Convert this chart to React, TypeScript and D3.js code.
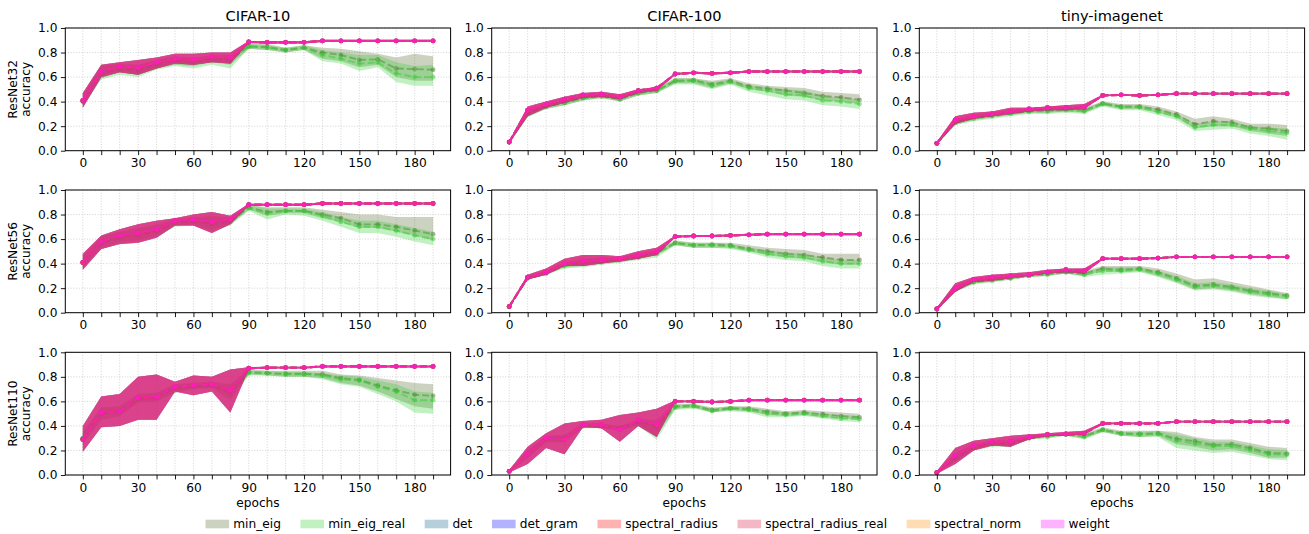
import React, { useEffect, useRef } from "react";
import * as d3 from "d3";

const W = 1309;
const H = 534;

// x values and labels
const epochs = [0, 10, 20, 30, 40, 50, 60, 70, 80, 90, 100, 110, 120, 130, 140, 150, 160, 170, 180, 190];
const yTicks = [0, 0.2, 0.4, 0.6, 0.8, 1.0];
const datasets = ["CIFAR-10", "CIFAR-100", "tiny-imagenet"];
const models = ["ResNet32", "ResNet56", "ResNet110"];
const seriesNames = ["min_eig", "min_eig_real", "det", "det_gram", "spectral_radius", "spectral_radius_real", "spectral_norm", "weight"];
const seriesColors = ["#556b2f", "#32cd32", "#0a6289", "#0000ff", "#ff0000", "#dc143c", "#ff8c00", "#ff00ff"];

// ResNet32 / CIFAR-10
const c10_r32_mag = [0.41, 0.645, 0.685, 0.677, 0.72, 0.747, 0.74, 0.766, 0.76, 0.886, 0.883, 0.883, 0.883, 0.895, 0.895, 0.895, 0.895, 0.895, 0.895, 0.895];
const c10_r32_magLo = [0.35, 0.6, 0.64, 0.62, 0.67, 0.71, 0.7, 0.72, 0.71, 0.876, 0.874, 0.874, 0.874, 0.886, 0.886, 0.886, 0.886, 0.886, 0.886, 0.886];
const c10_r32_magHi = [0.47, 0.7, 0.72, 0.74, 0.76, 0.79, 0.79, 0.8, 0.8, 0.894, 0.892, 0.892, 0.892, 0.904, 0.904, 0.904, 0.904, 0.904, 0.904, 0.904];
const c10_r32_eig = [0.4, 0.64, 0.67, 0.66, 0.71, 0.74, 0.73, 0.75, 0.75, 0.85, 0.845, 0.82, 0.84, 0.8, 0.78, 0.74, 0.745, 0.67, 0.665, 0.66];
const c10_r32_eigLo = [0.36, 0.59, 0.64, 0.62, 0.67, 0.7, 0.69, 0.72, 0.7, 0.83, 0.82, 0.8, 0.82, 0.75, 0.73, 0.68, 0.7, 0.6, 0.57, 0.57];
const c10_r32_eigHi = [0.45, 0.69, 0.71, 0.7, 0.74, 0.77, 0.76, 0.78, 0.78, 0.87, 0.87, 0.84, 0.86, 0.84, 0.83, 0.81, 0.79, 0.76, 0.79, 0.77];
const c10_r32_real = [0.4, 0.63, 0.66, 0.65, 0.7, 0.73, 0.72, 0.74, 0.73, 0.85, 0.84, 0.82, 0.84, 0.78, 0.75, 0.71, 0.72, 0.63, 0.6, 0.6];
const c10_r32_realLo = [0.36, 0.58, 0.62, 0.6, 0.66, 0.69, 0.67, 0.7, 0.67, 0.83, 0.82, 0.8, 0.82, 0.73, 0.71, 0.65, 0.68, 0.56, 0.53, 0.53];
const c10_r32_realHi = [0.46, 0.7, 0.7, 0.7, 0.74, 0.76, 0.75, 0.76, 0.76, 0.87, 0.86, 0.84, 0.86, 0.82, 0.8, 0.78, 0.78, 0.72, 0.69, 0.7];

// ResNet32 / CIFAR-100
const c100_r32_mag = [0.07, 0.33, 0.38, 0.42, 0.455, 0.46, 0.44, 0.49, 0.51, 0.625, 0.635, 0.63, 0.635, 0.645, 0.645, 0.645, 0.645, 0.645, 0.645, 0.645];
const c100_r32_magLo = [0.06, 0.28, 0.35, 0.39, 0.43, 0.44, 0.42, 0.47, 0.49, 0.617, 0.627, 0.622, 0.627, 0.637, 0.637, 0.637, 0.637, 0.637, 0.637, 0.637];
const c100_r32_magHi = [0.08, 0.36, 0.4, 0.44, 0.47, 0.48, 0.46, 0.5, 0.52, 0.633, 0.643, 0.638, 0.643, 0.653, 0.653, 0.653, 0.653, 0.653, 0.653, 0.653];
const c100_r32_eig = [0.07, 0.31, 0.36, 0.39, 0.43, 0.445, 0.42, 0.47, 0.49, 0.57, 0.575, 0.54, 0.57, 0.525, 0.505, 0.49, 0.47, 0.445, 0.435, 0.415];
const c100_r32_eigLo = [0.06, 0.28, 0.34, 0.37, 0.41, 0.43, 0.4, 0.45, 0.47, 0.55, 0.55, 0.51, 0.55, 0.5, 0.48, 0.45, 0.44, 0.41, 0.4, 0.38];
const c100_r32_eigHi = [0.08, 0.33, 0.38, 0.41, 0.45, 0.46, 0.44, 0.49, 0.51, 0.59, 0.59, 0.57, 0.59, 0.55, 0.53, 0.52, 0.51, 0.48, 0.47, 0.46];
const c100_r32_real = [0.07, 0.3, 0.36, 0.39, 0.43, 0.44, 0.42, 0.47, 0.49, 0.565, 0.57, 0.53, 0.56, 0.51, 0.49, 0.46, 0.45, 0.41, 0.4, 0.38];
const c100_r32_realLo = [0.06, 0.27, 0.34, 0.37, 0.41, 0.43, 0.4, 0.45, 0.47, 0.54, 0.54, 0.5, 0.54, 0.48, 0.45, 0.42, 0.41, 0.37, 0.36, 0.34];
const c100_r32_realHi = [0.08, 0.33, 0.38, 0.41, 0.45, 0.46, 0.44, 0.49, 0.51, 0.59, 0.59, 0.56, 0.58, 0.53, 0.52, 0.5, 0.49, 0.45, 0.43, 0.42];

// ResNet32 / tiny-imagenet
const tin_r32_mag = [0.06, 0.25, 0.28, 0.3, 0.32, 0.34, 0.35, 0.35, 0.355, 0.45, 0.455, 0.45, 0.455, 0.465, 0.465, 0.465, 0.465, 0.465, 0.465, 0.465];
const tin_r32_magLo = [0.05, 0.22, 0.26, 0.28, 0.3, 0.32, 0.33, 0.33, 0.34, 0.443, 0.448, 0.443, 0.448, 0.458, 0.458, 0.458, 0.458, 0.458, 0.458, 0.458];
const tin_r32_magHi = [0.07, 0.28, 0.31, 0.32, 0.35, 0.35, 0.36, 0.37, 0.38, 0.457, 0.462, 0.457, 0.462, 0.472, 0.472, 0.472, 0.472, 0.472, 0.472, 0.472];
const tin_r32_eig = [0.06, 0.23, 0.27, 0.29, 0.31, 0.32, 0.33, 0.34, 0.33, 0.385, 0.36, 0.36, 0.335, 0.295, 0.215, 0.24, 0.23, 0.19, 0.18, 0.16];
const tin_r32_eigLo = [0.05, 0.21, 0.25, 0.27, 0.29, 0.31, 0.31, 0.32, 0.31, 0.37, 0.34, 0.34, 0.31, 0.27, 0.18, 0.2, 0.2, 0.16, 0.14, 0.12];
const tin_r32_eigHi = [0.07, 0.25, 0.29, 0.31, 0.33, 0.34, 0.35, 0.35, 0.35, 0.4, 0.38, 0.38, 0.36, 0.32, 0.26, 0.28, 0.26, 0.22, 0.22, 0.21];
const tin_r32_real = [0.06, 0.23, 0.26, 0.28, 0.3, 0.32, 0.32, 0.33, 0.32, 0.38, 0.355, 0.355, 0.315, 0.28, 0.19, 0.21, 0.21, 0.18, 0.16, 0.145];
const tin_r32_realLo = [0.05, 0.21, 0.24, 0.26, 0.28, 0.3, 0.3, 0.31, 0.3, 0.36, 0.33, 0.33, 0.29, 0.25, 0.16, 0.17, 0.18, 0.14, 0.12, 0.09];
const tin_r32_realHi = [0.07, 0.25, 0.28, 0.3, 0.32, 0.33, 0.34, 0.35, 0.34, 0.4, 0.37, 0.37, 0.34, 0.3, 0.22, 0.24, 0.24, 0.2, 0.19, 0.18];

// ResNet56 / CIFAR-10
const c10_r56_mag = [0.41, 0.58, 0.63, 0.65, 0.68, 0.75, 0.76, 0.74, 0.76, 0.88, 0.88, 0.88, 0.88, 0.89, 0.89, 0.89, 0.89, 0.89, 0.89, 0.89];
const c10_r56_magLo = [0.35, 0.52, 0.56, 0.57, 0.61, 0.71, 0.71, 0.65, 0.72, 0.872, 0.872, 0.872, 0.872, 0.882, 0.882, 0.882, 0.882, 0.882, 0.882, 0.882];
const c10_r56_magHi = [0.48, 0.63, 0.68, 0.72, 0.75, 0.77, 0.8, 0.82, 0.79, 0.888, 0.888, 0.888, 0.888, 0.898, 0.898, 0.898, 0.898, 0.898, 0.898, 0.898];
const c10_r56_eig = [0.41, 0.57, 0.62, 0.64, 0.67, 0.74, 0.75, 0.73, 0.75, 0.86, 0.82, 0.83, 0.83, 0.8, 0.77, 0.72, 0.72, 0.7, 0.67, 0.64];
const c10_r56_eigLo = [0.37, 0.53, 0.58, 0.59, 0.63, 0.71, 0.72, 0.68, 0.72, 0.84, 0.79, 0.81, 0.81, 0.77, 0.74, 0.69, 0.69, 0.66, 0.63, 0.59];
const c10_r56_eigHi = [0.46, 0.62, 0.66, 0.69, 0.72, 0.77, 0.78, 0.79, 0.78, 0.88, 0.86, 0.86, 0.86, 0.84, 0.82, 0.8, 0.8, 0.78, 0.78, 0.78];
const c10_r56_real = [0.41, 0.57, 0.61, 0.63, 0.66, 0.73, 0.74, 0.72, 0.74, 0.85, 0.81, 0.83, 0.83, 0.79, 0.74, 0.7, 0.7, 0.67, 0.63, 0.6];
const c10_r56_realLo = [0.36, 0.52, 0.56, 0.58, 0.62, 0.7, 0.71, 0.66, 0.71, 0.83, 0.76, 0.8, 0.79, 0.75, 0.7, 0.65, 0.65, 0.62, 0.58, 0.55];
const c10_r56_realHi = [0.46, 0.62, 0.66, 0.69, 0.71, 0.76, 0.77, 0.78, 0.77, 0.88, 0.85, 0.85, 0.85, 0.82, 0.78, 0.75, 0.75, 0.72, 0.69, 0.66];

// ResNet56 / CIFAR-100
const c100_r56_mag = [0.05, 0.29, 0.33, 0.4, 0.42, 0.43, 0.44, 0.47, 0.5, 0.62, 0.625, 0.625, 0.63, 0.635, 0.64, 0.64, 0.64, 0.64, 0.64, 0.64];
const c100_r56_magLo = [0.04, 0.27, 0.31, 0.38, 0.38, 0.4, 0.42, 0.44, 0.47, 0.612, 0.617, 0.617, 0.622, 0.627, 0.632, 0.632, 0.632, 0.632, 0.632, 0.632];
const c100_r56_magHi = [0.06, 0.31, 0.36, 0.44, 0.47, 0.47, 0.46, 0.5, 0.53, 0.628, 0.633, 0.633, 0.638, 0.643, 0.648, 0.648, 0.648, 0.648, 0.648, 0.648];
const c100_r56_eig = [0.05, 0.28, 0.32, 0.39, 0.41, 0.42, 0.43, 0.46, 0.49, 0.57, 0.55, 0.555, 0.55, 0.52, 0.5, 0.48, 0.47, 0.45, 0.43, 0.43];
const c100_r56_eigLo = [0.04, 0.27, 0.31, 0.37, 0.38, 0.4, 0.41, 0.44, 0.47, 0.55, 0.53, 0.53, 0.53, 0.5, 0.47, 0.45, 0.44, 0.41, 0.39, 0.39];
const c100_r56_eigHi = [0.06, 0.3, 0.34, 0.41, 0.44, 0.45, 0.45, 0.48, 0.51, 0.59, 0.57, 0.57, 0.57, 0.55, 0.53, 0.52, 0.51, 0.48, 0.48, 0.48];
const c100_r56_real = [0.05, 0.28, 0.32, 0.38, 0.4, 0.41, 0.43, 0.45, 0.48, 0.565, 0.55, 0.55, 0.54, 0.51, 0.48, 0.46, 0.45, 0.42, 0.4, 0.4];
const c100_r56_realLo = [0.04, 0.27, 0.31, 0.36, 0.37, 0.39, 0.41, 0.43, 0.45, 0.55, 0.53, 0.53, 0.52, 0.49, 0.45, 0.43, 0.42, 0.38, 0.36, 0.36];
const c100_r56_realHi = [0.06, 0.3, 0.34, 0.41, 0.43, 0.44, 0.45, 0.48, 0.5, 0.58, 0.57, 0.57, 0.56, 0.53, 0.51, 0.49, 0.48, 0.45, 0.43, 0.43];

// ResNet56 / tiny-imagenet
const tin_r56_mag = [0.03, 0.2, 0.27, 0.29, 0.3, 0.31, 0.33, 0.35, 0.34, 0.44, 0.44, 0.44, 0.445, 0.455, 0.455, 0.455, 0.455, 0.455, 0.455, 0.455];
const tin_r56_magLo = [0.02, 0.17, 0.25, 0.26, 0.28, 0.3, 0.32, 0.33, 0.32, 0.433, 0.433, 0.433, 0.438, 0.448, 0.448, 0.448, 0.448, 0.448, 0.448, 0.448];
const tin_r56_magHi = [0.04, 0.24, 0.29, 0.31, 0.32, 0.33, 0.35, 0.36, 0.36, 0.447, 0.447, 0.447, 0.452, 0.462, 0.462, 0.462, 0.462, 0.462, 0.462, 0.462];
const tin_r56_eig = [0.03, 0.19, 0.25, 0.27, 0.28, 0.3, 0.32, 0.33, 0.32, 0.36, 0.35, 0.36, 0.33, 0.28, 0.22, 0.23, 0.21, 0.18, 0.16, 0.14];
const tin_r56_eigLo = [0.02, 0.17, 0.24, 0.25, 0.27, 0.29, 0.3, 0.32, 0.3, 0.34, 0.33, 0.34, 0.3, 0.25, 0.19, 0.2, 0.18, 0.15, 0.13, 0.11];
const tin_r56_eigHi = [0.04, 0.22, 0.27, 0.29, 0.3, 0.31, 0.33, 0.34, 0.34, 0.38, 0.38, 0.38, 0.36, 0.32, 0.27, 0.28, 0.25, 0.22, 0.19, 0.16];
const tin_r56_real = [0.03, 0.19, 0.25, 0.26, 0.28, 0.3, 0.31, 0.33, 0.31, 0.34, 0.34, 0.35, 0.32, 0.27, 0.21, 0.22, 0.2, 0.17, 0.15, 0.13];
const tin_r56_realLo = [0.02, 0.17, 0.23, 0.25, 0.27, 0.29, 0.3, 0.32, 0.29, 0.31, 0.32, 0.33, 0.29, 0.24, 0.18, 0.19, 0.17, 0.14, 0.12, 0.11];
const tin_r56_realHi = [0.04, 0.22, 0.27, 0.28, 0.3, 0.31, 0.33, 0.34, 0.33, 0.37, 0.37, 0.37, 0.34, 0.3, 0.24, 0.25, 0.23, 0.2, 0.18, 0.15];

// ResNet110 / CIFAR-10
const c10_r110_mag = [0.29, 0.51, 0.52, 0.63, 0.635, 0.72, 0.73, 0.74, 0.69, 0.87, 0.875, 0.875, 0.875, 0.885, 0.885, 0.885, 0.885, 0.885, 0.885, 0.885];
const c10_r110_magLo = [0.19, 0.39, 0.4, 0.45, 0.45, 0.68, 0.65, 0.68, 0.51, 0.862, 0.867, 0.867, 0.867, 0.877, 0.877, 0.877, 0.877, 0.877, 0.877, 0.877];
const c10_r110_magHi = [0.4, 0.64, 0.66, 0.8, 0.82, 0.76, 0.81, 0.8, 0.86, 0.878, 0.883, 0.883, 0.883, 0.893, 0.893, 0.893, 0.893, 0.893, 0.893, 0.893];
const c10_r110_eig = [0.3, 0.5, 0.52, 0.62, 0.63, 0.71, 0.72, 0.73, 0.68, 0.84, 0.83, 0.825, 0.825, 0.82, 0.79, 0.775, 0.73, 0.69, 0.655, 0.645];
const c10_r110_eigLo = [0.25, 0.45, 0.48, 0.59, 0.6, 0.67, 0.7, 0.71, 0.62, 0.82, 0.81, 0.8, 0.8, 0.79, 0.75, 0.73, 0.68, 0.62, 0.56, 0.54];
const c10_r110_eigHi = [0.35, 0.55, 0.56, 0.66, 0.67, 0.74, 0.75, 0.76, 0.74, 0.86, 0.85, 0.85, 0.85, 0.85, 0.82, 0.81, 0.79, 0.77, 0.75, 0.74];
const c10_r110_real = [0.3, 0.5, 0.52, 0.62, 0.63, 0.71, 0.72, 0.73, 0.67, 0.83, 0.83, 0.82, 0.82, 0.81, 0.78, 0.77, 0.72, 0.68, 0.61, 0.61];
const c10_r110_realLo = [0.25, 0.45, 0.48, 0.59, 0.6, 0.67, 0.7, 0.71, 0.6, 0.81, 0.81, 0.8, 0.8, 0.78, 0.74, 0.72, 0.66, 0.6, 0.51, 0.5];
const c10_r110_realHi = [0.35, 0.55, 0.56, 0.66, 0.67, 0.74, 0.75, 0.76, 0.74, 0.85, 0.85, 0.84, 0.84, 0.83, 0.81, 0.8, 0.77, 0.74, 0.68, 0.67];

// ResNet110 / CIFAR-100
const c100_r110_mag = [0.03, 0.17, 0.3, 0.29, 0.41, 0.41, 0.37, 0.45, 0.41, 0.6, 0.6, 0.595, 0.6, 0.61, 0.61, 0.61, 0.61, 0.61, 0.61, 0.61];
const c100_r110_magLo = [0.02, 0.09, 0.22, 0.17, 0.39, 0.38, 0.27, 0.4, 0.31, 0.592, 0.592, 0.587, 0.592, 0.602, 0.602, 0.602, 0.602, 0.602, 0.602, 0.602];
const c100_r110_magHi = [0.04, 0.23, 0.34, 0.42, 0.44, 0.45, 0.49, 0.51, 0.54, 0.608, 0.608, 0.603, 0.608, 0.618, 0.618, 0.618, 0.618, 0.618, 0.618, 0.618];
const c100_r110_eig = [0.03, 0.17, 0.3, 0.3, 0.4, 0.4, 0.38, 0.43, 0.4, 0.56, 0.565, 0.53, 0.545, 0.54, 0.515, 0.5, 0.51, 0.495, 0.48, 0.47];
const c100_r110_eigLo = [0.02, 0.14, 0.27, 0.27, 0.39, 0.39, 0.36, 0.41, 0.32, 0.54, 0.55, 0.51, 0.53, 0.52, 0.49, 0.48, 0.49, 0.47, 0.46, 0.45];
const c100_r110_eigHi = [0.04, 0.2, 0.32, 0.33, 0.42, 0.42, 0.4, 0.45, 0.45, 0.58, 0.58, 0.55, 0.56, 0.56, 0.54, 0.52, 0.53, 0.52, 0.51, 0.5];
const c100_r110_real = [0.03, 0.17, 0.29, 0.29, 0.4, 0.4, 0.38, 0.43, 0.39, 0.55, 0.56, 0.52, 0.54, 0.53, 0.5, 0.49, 0.5, 0.48, 0.46, 0.455];
const c100_r110_realLo = [0.02, 0.14, 0.26, 0.26, 0.38, 0.38, 0.36, 0.4, 0.29, 0.53, 0.54, 0.51, 0.52, 0.51, 0.47, 0.47, 0.48, 0.46, 0.44, 0.43];
const c100_r110_realHi = [0.04, 0.2, 0.32, 0.32, 0.42, 0.42, 0.4, 0.45, 0.44, 0.57, 0.58, 0.54, 0.56, 0.55, 0.53, 0.51, 0.52, 0.5, 0.49, 0.48];

// ResNet110 / tiny-imagenet
const tin_r110_mag = [0.02, 0.16, 0.24, 0.27, 0.275, 0.31, 0.33, 0.335, 0.34, 0.42, 0.42, 0.42, 0.42, 0.435, 0.435, 0.435, 0.435, 0.435, 0.435, 0.435];
const tin_r110_magLo = [0.01, 0.09, 0.2, 0.24, 0.23, 0.29, 0.32, 0.32, 0.33, 0.413, 0.413, 0.413, 0.413, 0.428, 0.428, 0.428, 0.428, 0.428, 0.428, 0.428];
const tin_r110_magHi = [0.03, 0.22, 0.28, 0.3, 0.32, 0.33, 0.34, 0.35, 0.36, 0.427, 0.427, 0.427, 0.427, 0.442, 0.442, 0.442, 0.442, 0.442, 0.442, 0.442];
const tin_r110_eig = [0.02, 0.14, 0.23, 0.26, 0.26, 0.3, 0.32, 0.33, 0.32, 0.37, 0.34, 0.335, 0.34, 0.295, 0.275, 0.245, 0.25, 0.22, 0.18, 0.175];
const tin_r110_eigLo = [0.01, 0.11, 0.21, 0.24, 0.24, 0.29, 0.31, 0.32, 0.3, 0.35, 0.32, 0.31, 0.32, 0.25, 0.23, 0.2, 0.21, 0.18, 0.14, 0.14];
const tin_r110_eigHi = [0.03, 0.18, 0.25, 0.28, 0.28, 0.32, 0.33, 0.34, 0.34, 0.39, 0.36, 0.36, 0.36, 0.35, 0.31, 0.29, 0.29, 0.26, 0.23, 0.22];
const tin_r110_real = [0.02, 0.14, 0.22, 0.25, 0.25, 0.3, 0.31, 0.33, 0.31, 0.365, 0.335, 0.33, 0.335, 0.28, 0.255, 0.235, 0.235, 0.205, 0.17, 0.165];
const tin_r110_realLo = [0.01, 0.11, 0.2, 0.23, 0.23, 0.29, 0.3, 0.32, 0.29, 0.35, 0.32, 0.31, 0.31, 0.22, 0.2, 0.18, 0.19, 0.16, 0.13, 0.12];
const tin_r110_realHi = [0.03, 0.18, 0.24, 0.27, 0.27, 0.31, 0.33, 0.34, 0.33, 0.38, 0.35, 0.35, 0.36, 0.33, 0.3, 0.27, 0.27, 0.24, 0.21, 0.2];

type Band = { mean: number[]; lo: number[]; hi: number[] };
type Panel = { eig: Band; real: Band; mag: Band };

const band = (mean: number[], lo: number[], hi: number[]): Band => ({ mean, lo, hi });

// rows = models, columns = datasets
const panels: Panel[][] = [
  [
    { eig: band(c10_r32_eig, c10_r32_eigLo, c10_r32_eigHi), real: band(c10_r32_real, c10_r32_realLo, c10_r32_realHi), mag: band(c10_r32_mag, c10_r32_magLo, c10_r32_magHi) },
    { eig: band(c100_r32_eig, c100_r32_eigLo, c100_r32_eigHi), real: band(c100_r32_real, c100_r32_realLo, c100_r32_realHi), mag: band(c100_r32_mag, c100_r32_magLo, c100_r32_magHi) },
    { eig: band(tin_r32_eig, tin_r32_eigLo, tin_r32_eigHi), real: band(tin_r32_real, tin_r32_realLo, tin_r32_realHi), mag: band(tin_r32_mag, tin_r32_magLo, tin_r32_magHi) },
  ],
  [
    { eig: band(c10_r56_eig, c10_r56_eigLo, c10_r56_eigHi), real: band(c10_r56_real, c10_r56_realLo, c10_r56_realHi), mag: band(c10_r56_mag, c10_r56_magLo, c10_r56_magHi) },
    { eig: band(c100_r56_eig, c100_r56_eigLo, c100_r56_eigHi), real: band(c100_r56_real, c100_r56_realLo, c100_r56_realHi), mag: band(c100_r56_mag, c100_r56_magLo, c100_r56_magHi) },
    { eig: band(tin_r56_eig, tin_r56_eigLo, tin_r56_eigHi), real: band(tin_r56_real, tin_r56_realLo, tin_r56_realHi), mag: band(tin_r56_mag, tin_r56_magLo, tin_r56_magHi) },
  ],
  [
    { eig: band(c10_r110_eig, c10_r110_eigLo, c10_r110_eigHi), real: band(c10_r110_real, c10_r110_realLo, c10_r110_realHi), mag: band(c10_r110_mag, c10_r110_magLo, c10_r110_magHi) },
    { eig: band(c100_r110_eig, c100_r110_eigLo, c100_r110_eigHi), real: band(c100_r110_real, c100_r110_realLo, c100_r110_realHi), mag: band(c100_r110_mag, c100_r110_magLo, c100_r110_magHi) },
    { eig: band(tin_r110_eig, tin_r110_eigLo, tin_r110_eigHi), real: band(tin_r110_real, tin_r110_realLo, tin_r110_realHi), mag: band(tin_r110_mag, tin_r110_magLo, tin_r110_magHi) },
  ],
];

// layout
const COL_X = [65.3, 491.7, 919.3];
const ROW_Y = [28, 190, 352.3];
const PW = 385.3;
const PH = 122.7;
const FONT = "DejaVu Sans, sans-serif";
const TICK_FS = 12.2;
const TITLE_FS = 14.6;
const LEG_FS = 12.2;

const App = () => {
  const svgRef = useRef<SVGSVGElement>(null);

  useEffect(() => {
    const svg = d3.select(svgRef.current);
    svg.selectAll("*").remove();
    svg.append("rect").attr("width", W).attr("height", H).attr("fill", "#fff");

    const x = d3.scaleLinear().domain([-9.5, 199.5]).range([0, PW]);
    const y = d3.scaleLinear().domain([0, 1]).range([PH, 0]);

    panels.forEach((row, r) =>
      row.forEach((p, c) => {
        const g = svg.append("g").attr("transform", `translate(${COL_X[c]},${ROW_Y[r]})`);

        // dotted grid
        g.selectAll(".gx")
          .data(epochs)
          .enter()
          .append("line")
          .attr("x1", (d) => x(d))
          .attr("x2", (d) => x(d))
          .attr("y1", 0)
          .attr("y2", PH)
          .attr("stroke", "#c8c8c8")
          .attr("stroke-width", 0.8)
          .attr("stroke-dasharray", "1,1.7");
        g.selectAll(".gy")
          .data(yTicks)
          .enter()
          .append("line")
          .attr("x1", 0)
          .attr("x2", PW)
          .attr("y1", (d) => y(d))
          .attr("y2", (d) => y(d))
          .attr("stroke", "#c8c8c8")
          .attr("stroke-width", 0.8)
          .attr("stroke-dasharray", "1,1.7");

        // one band + dashed mean line per series, in legend order
        const bands = [p.eig, p.real, p.mag, p.mag, p.mag, p.mag, p.mag, p.mag];
        bands.forEach((b, i) => {
          const col = seriesColors[i];
          const area = d3
            .area<number>()
            .x((d) => x(d))
            .y0((d, k) => y(b.lo[k]))
            .y1((d, k) => y(b.hi[k]));
          g.append("path").datum(epochs).attr("d", area).attr("fill", col).attr("fill-opacity", 0.3);

          const line = d3
            .line<number>()
            .x((d) => x(d))
            .y((d, k) => y(b.mean[k]));
          g.append("path")
            .datum(epochs)
            .attr("d", line)
            .attr("fill", "none")
            .attr("stroke", col)
            .attr("stroke-opacity", 0.5)
            .attr("stroke-width", 1.9)
            .attr("stroke-dasharray", "7,3");
          g.append("g")
            .selectAll("circle")
            .data(epochs)
            .enter()
            .append("circle")
            .attr("cx", (d) => x(d))
            .attr("cy", (d, k) => y(b.mean[k]))
            .attr("r", 2.4)
            .attr("fill", col)
            .attr("fill-opacity", 0.5);
        });

        // axes
        const xAxis = d3
          .axisBottom(x)
          .tickValues(epochs)
          .tickSize(4.4)
          .tickPadding(3.5)
          .tickFormat((d) => (+d % 30 === 0 ? String(d) : ""));
        g.append("g")
          .attr("transform", `translate(0,${PH})`)
          .call(xAxis)
          .call((a) => a.select(".domain").remove())
          .attr("font-size", TICK_FS)
          .attr("font-family", FONT);

        const yAxis = d3
          .axisLeft(y)
          .tickValues(yTicks)
          .tickSize(4.4)
          .tickPadding(3.5)
          .tickFormat(d3.format(".1f"));
        g.append("g")
          .call(yAxis)
          .call((a) => a.select(".domain").remove())
          .attr("font-size", TICK_FS)
          .attr("font-family", FONT);

        g.selectAll(".tick line").attr("stroke", "#000").attr("stroke-width", 0.9);
        g.selectAll(".tick text").attr("fill", "#000");

        // box
        g.append("rect")
          .attr("width", PW)
          .attr("height", PH)
          .attr("fill", "none")
          .attr("stroke", "#000")
          .attr("stroke-width", 1);

        if (r === 0) {
          g.append("text")
            .attr("x", PW / 2)
            .attr("y", -7.5)
            .attr("text-anchor", "middle")
            .attr("font-family", FONT)
            .attr("font-size", TITLE_FS)
            .text(datasets[c]);
        }
        if (c === 0) {
          // two-line y label: model name, then "accuracy"
          const yl = g.append("text")
            .attr("transform", `translate(-48.6,${PH / 2}) rotate(-90)`)
            .attr("text-anchor", "middle")
            .attr("font-family", FONT)
            .attr("font-size", TICK_FS);
          yl.append("tspan").attr("x", 0).attr("y", 0).text(models[r]);
          yl.append("tspan").attr("x", 0).attr("dy", 13.8).text("accuracy");
        }
        if (r === 2) {
          g.append("text")
            .attr("x", PW / 2)
            .attr("y", PH + 32)
            .attr("text-anchor", "middle")
            .attr("font-family", FONT)
            .attr("font-size", TICK_FS)
            .text("epochs");
        }
      })
    );

    // legend below the grid
    const ctx = document.createElement("canvas").getContext("2d");
    if (ctx) ctx.font = `${LEG_FS}px DejaVu Sans`;
    const lg = svg.append("g").attr("font-family", FONT).attr("font-size", LEG_FS);
    let lx = 205.5;
    const ly = 524;
    seriesNames.forEach((n, i) => {
      lg.append("rect")
        .attr("x", lx)
        .attr("y", ly - 4.3)
        .attr("width", 23.6)
        .attr("height", 8.6)
        .attr("fill", seriesColors[i])
        .attr("fill-opacity", 0.3);
      lg.append("text").attr("x", lx + 27.7).attr("y", ly + 4.3).text(n);
      const tw = ctx ? ctx.measureText(n).width : n.length * 7;
      lx += 27.7 + tw + 19.6;
    });
  }, []);

  return (
    <svg
      ref={svgRef}
      width={W}
      height={H}
      style={{ position: "absolute", left: 0, top: 0 }}
    ></svg>
  );
};

export default App;
